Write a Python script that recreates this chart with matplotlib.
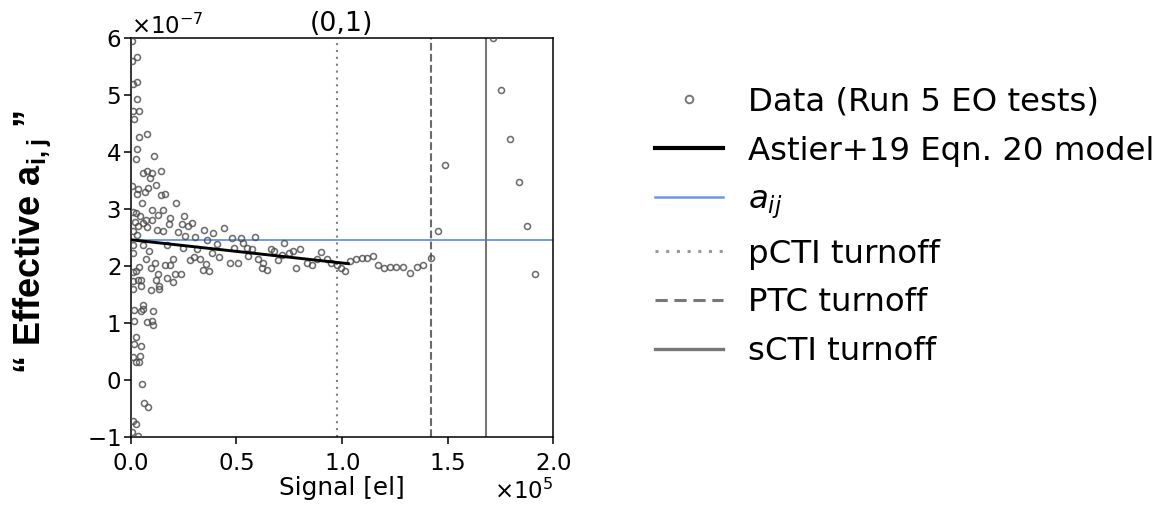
import matplotlib
matplotlib.use('Agg')
import matplotlib.pyplot as plt
from matplotlib.lines import Line2D

# ---- data (signal in units of 1e5 el, a in units of 1e-7) ----
data_signal = [
    0.005, 0.031, 0.006, 0.031, 0.009, 0.031, 0.039, 0.013, 0.016, 0.041,
    0.076, 0.028, 0.024, 0.112, 0.060, 0.076, 0.102, 0.091, 0.145, 0.006,
    0.036, 0.031, 0.068, 0.080, 0.120, 0.142, 0.162, 0.052, 0.214, 0.099,
    0.154, 0.013, 0.024, 0.131, 0.044, 0.186, 0.254, 0.072, 0.099, 0.020,
    0.060, 0.183, 0.241, 0.289, 0.273, 0.036, 0.076, 0.123, 0.151, 0.347,
    0.391, 0.442, 0.225, 0.013, 0.028, 0.257, 0.304,
    0.363, 0.410, 0.013, 0.060, 0.013, 0.088, 0.170, 0.249, 0.312, 0.383,
    0.419, 0.281, 0.300, 0.328, 0.341, 0.372, 0.356, 0.072, 0.115, 0.095,
    0.041, 0.025, 0.009, 0.131, 0.162, 0.199, 0.186, 0.210, 0.237, 0.170,
    0.199, 0.120, 0.135, 0.135, 0.095, 0.036, 0.047, 0.009, 0.009, 0.047,
    0.057, 0.057, 0.047, 0.016, 0.107, 0.016, 0.076, 0.099, 0.107, 0.025,
    0.016, 0.047, 0.009, 0.044, 0.025, 0.041, 0.052, 0.063, 0.083, 0.013,
    0.025, 0.005, 0.036,
    0.478, 0.522, 0.588, 0.727, 0.489, 0.533, 0.549, 0.573, 0.470, 0.509,
    0.557, 0.604, 0.628, 0.620, 0.644, 0.663, 0.679, 0.699, 0.715, 0.751,
    0.770, 0.801, 0.782, 0.833, 0.857, 0.899, 0.880, 0.928, 0.947, 0.975,
    0.995, 1.014, 1.038, 1.066,
    1.093, 1.120, 1.145, 1.172, 1.199, 1.227, 1.256, 1.287, 1.322, 1.354,
    1.385, 1.420, 1.453, 1.487,
    1.713, 1.754, 1.795, 1.836, 1.877, 1.915,
]
data_a = [
    5.96, 5.68, 5.60, 5.24, 5.19, 4.94, 4.73, 4.72, 4.58, 4.27,
    4.32, 4.06, 3.88, 3.94, 3.64, 3.66, 3.64, 3.55, 3.67, 3.41,
    3.35, 3.27, 3.30, 3.37, 3.42, 3.24, 3.27, 3.10, 3.10, 2.99,
    2.98, 2.94, 2.93, 2.89, 2.87, 2.84, 2.87, 2.80, 2.80, 2.77,
    2.76, 2.74, 2.73, 2.76, 2.71, 2.70, 2.69, 2.64, 2.61, 2.64,
    2.58, 2.66, 2.59, 2.61, 2.55, 2.52, 2.51,
    2.45, 2.39, 2.37, 2.37, 2.22, 2.27, 2.36, 2.32, 2.30, 2.22,
    2.16, 2.11, 2.16, 2.12, 1.93, 1.91, 2.04, 2.12, 2.06, 1.96,
    1.99, 1.91, 1.89, 1.86, 2.02, 2.12, 2.01, 1.86, 1.86, 1.79,
    1.71, 1.75, 1.65, 1.60, 1.57, 1.75, 1.76, 1.73, 1.60, 1.65,
    1.32, 1.24, 1.20, 1.22, 1.20, 1.03, 1.01, 1.04, 0.97, 0.75,
    0.62, 0.59, 0.40, 0.42, 0.32, 0.31, -0.07, -0.40, -0.48, -0.73,
    -0.78, -0.92, -0.98,
    2.49, 2.49, 2.50, 2.41, 2.32, 2.40, 2.32, 2.29, 2.05, 2.05,
    2.18, 2.12, 2.05, 1.96, 1.93, 2.29, 2.26, 2.11, 2.20, 2.22,
    2.27, 2.29, 1.96, 2.05, 2.02, 2.25, 2.12, 2.12, 2.05, 2.01,
    1.96, 1.91, 2.08, 2.12,
    2.14, 2.14, 2.17, 2.02, 1.96, 1.99, 1.99, 1.98, 1.88, 1.99,
    2.02, 2.14, 2.62, 3.77,
    6.00, 5.09, 4.23, 3.48, 2.70, 1.86,
]
model_signal = [0.0, 1.03]
model_a = [2.46, 2.04]
a_ij_value = 2.46
pcti_turnoff = 0.975
ptc_turnoff = 1.42
scti_turnoff = 1.68

XS = 1e5
YS = 1e-7

plt.rcParams['axes.formatter.use_mathtext'] = True
plt.rcParams['mathtext.fontset'] = 'custom'
plt.rcParams['mathtext.rm'] = 'DejaVu Sans'
plt.rcParams['mathtext.it'] = 'DejaVu Sans:italic'
plt.rcParams['mathtext.bf'] = 'Liberation Sans:bold'

fig = plt.figure(figsize=(11.67, 5.08), dpi=100)
ax = fig.add_axes([0.1120, 0.1404, 0.4741 - 0.1120, 0.9246 - 0.1404])

ax.plot([v * XS for v in data_signal], [v * YS for v in data_a], 'o',
        ms=4.3, mfc='none', mec='#4a4a4a', mew=1.15, alpha=0.8, zorder=3)
ax.plot([v * XS for v in model_signal], [v * YS for v in model_a],
        color='black', lw=2.1, zorder=4)
ax.axhline(a_ij_value * YS, color='#4f7fdc', lw=1.1, zorder=2)
ax.axvline(pcti_turnoff * XS, color='#808080', lw=1.5, ls=(0, (1, 2.3)), zorder=2)
ax.axvline(ptc_turnoff * XS, color='#6a6a6a', lw=1.5, ls='--', zorder=2)
ax.axvline(scti_turnoff * XS, color='#777777', lw=1.5, ls='-', zorder=2)

ax.set_xlim(0, 2.0 * XS)
ax.set_ylim(-1 * YS, 6 * YS)
ax.set_xticks([v * XS for v in [0, 0.5, 1.0, 1.5, 2.0]])
ax.set_yticks([v * YS for v in range(-1, 7)])
ax.ticklabel_format(axis='both', style='sci', scilimits=(0, 0))
ax.tick_params(axis='both', labelsize=16.5, length=5, width=1.1)
ax.tick_params(axis='x', pad=6)
ax.tick_params(axis='y', pad=2)
ax.xaxis.get_offset_text().set_fontsize(16.5)
ax.yaxis.get_offset_text().set_fontsize(16.5)
for s in ax.spines.values():
    s.set_linewidth(1.1)

ax.set_xlabel('Signal [el]', fontsize=17.8, labelpad=1)
ax.set_title('(0,1)', fontsize=19.3, pad=5)

fig.text(32 / 1167, 1 - 242 / 508, r'“ Effective a$_{\mathbf{i,j}}$ ”',
         rotation=90, ha='center', va='center', fontsize=26,
         fontweight='bold', family='Liberation Sans')

handles = [
    Line2D([], [], ls='none', marker='o', ms=5.5, mfc='none', mec='#777777', mew=1.4),
    Line2D([], [], color='black', lw=3.0),
    Line2D([], [], color='#6f96e6', lw=1.8),
    Line2D([], [], color='#999999', lw=2.2, ls=(0, (1, 2.5))),
    Line2D([], [], color='#777777', lw=2.2, ls=(0, (4, 2.2))),
    Line2D([], [], color='#777777', lw=2.4),
]
labels = ['Data (Run 5 EO tests)', 'Astier+19 Eqn. 20 model', r'$a_{ij}$',
          'pCTI turnoff', 'PTC turnoff', 'sCTI turnoff']
fig.legend(handles, labels, loc='center left', bbox_to_anchor=(655 / 1167, 1 - 227 / 508),
           frameon=False, fontsize=23.3, handlelength=2.1, handletextpad=0.77,
           labelspacing=0.55, borderpad=0, borderaxespad=0)

fig.savefig('out.png', dpi=100)
